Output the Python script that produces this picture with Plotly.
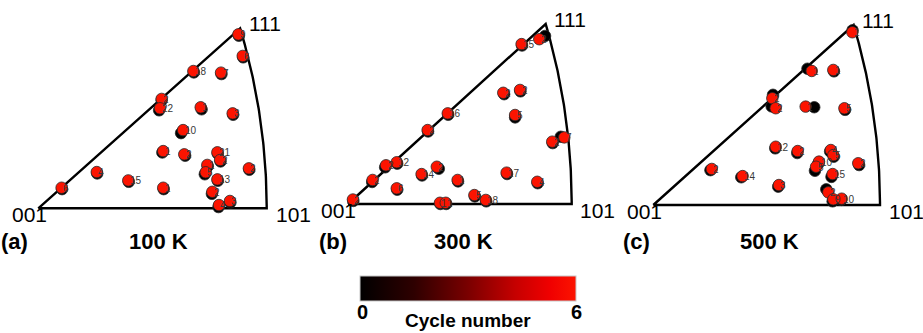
import numpy as np
import plotly.graph_objects as go

FIG_W, FIG_H = 923, 333
FONT = "Liberation Sans, Arial, sans-serif"

# Cycle numbers drawn for every grain (start and end of cycling)
CYCLES = [0, 6]

# Grain positions in the standard triangle, normalised so that 001 = (0, 0)
# and 101 = (1, 0) (stereographic coordinates divided by tan 22.5 deg).

# (a) 100 K
A_GRAIN = ["9", "6", "18", "7", "2", "22", "1", "3", "10", "1", "2", "21",
           "2", "1", "5", "2", "4", "15", "13", "6", "1", "2", "3", "4"]
A_X6 = [0.876, 0.895, 0.679, 0.800, 0.540, 0.533, 0.711, 0.851, 0.634, 0.547, 0.639, 0.784,
        0.796, 0.740, 0.733, 0.922, 0.256, 0.394, 0.784, 0.102, 0.547, 0.762, 0.839, 0.791]
A_Y6 = [0.854, 0.748, 0.674, 0.666, 0.537, 0.491, 0.496, 0.466, 0.384, 0.281, 0.265, 0.275,
        0.237, 0.213, 0.177, 0.196, 0.178, 0.137, 0.142, 0.101, 0.101, 0.081, 0.036, 0.016]
A_X0 = [0.878, 0.897, 0.681, 0.802, 0.540, 0.529, 0.715, 0.853, 0.625, 0.543, 0.643, 0.786,
        0.798, 0.742, 0.729, 0.924, 0.258, 0.396, 0.786, 0.104, 0.549, 0.760, 0.841, 0.789]
A_Y0 = [0.847, 0.741, 0.667, 0.659, 0.530, 0.481, 0.486, 0.459, 0.369, 0.274, 0.258, 0.268,
        0.230, 0.206, 0.167, 0.189, 0.171, 0.130, 0.135, 0.094, 0.094, 0.071, 0.029, 0.006]

# (b) 300 K
B_GRAIN = ["2", "15", "2", "2", "5", "16", "2", "7", "2", "2", "12", "2",
           "14", "17", "2", "1", "4", "6", "5", "2", "1", "1", "18"]
B_X6 = [0.855, 0.776, 0.694, 0.769, 0.747, 0.446, 0.356, 0.967, 0.913, 0.170, 0.218, 0.397,
        0.329, 0.709, 0.110, 0.490, 0.846, 0.218, 0.565, 0.022, 0.411, 0.437, 0.616]
B_Y6 = [0.809, 0.785, 0.546, 0.560, 0.437, 0.445, 0.363, 0.327, 0.306, 0.190, 0.205, 0.183,
        0.147, 0.154, 0.118, 0.118, 0.109, 0.077, 0.044, 0.022, 0.006, 0.006, 0.020]
B_X0 = [0.881, 0.778, 0.698, 0.771, 0.747, 0.448, 0.358, 0.951, 0.915, 0.166, 0.220, 0.406,
        0.331, 0.711, 0.108, 0.492, 0.848, 0.220, 0.567, 0.024, 0.413, 0.439, 0.618]
B_Y0 = [0.825, 0.778, 0.539, 0.553, 0.425, 0.438, 0.356, 0.330, 0.299, 0.180, 0.198, 0.173,
        0.140, 0.147, 0.108, 0.111, 0.102, 0.070, 0.037, 0.015, 0.000, 0.000, 0.013]

# (c) 500 K
C_GRAIN = ["1", "1", "1", "2", "2", "1", "5", "12", "2", "4", "5",
           "10", "5", "2", "2", "14", "15", "3", "2", "9", "10"]
C_X6 = [0.878, 0.699, 0.794, 0.525, 0.540, 0.672, 0.843, 0.540, 0.637, 0.783, 0.794,
        0.731, 0.718, 0.904, 0.258, 0.394, 0.791, 0.554, 0.772, 0.794, 0.831]
C_Y6 = [0.848, 0.658, 0.663, 0.524, 0.475, 0.483, 0.475, 0.286, 0.265, 0.270, 0.245,
        0.213, 0.188, 0.205, 0.177, 0.142, 0.152, 0.098, 0.062, 0.028, 0.031]
C_X0 = [0.879, 0.680, 0.797, 0.528, 0.522, 0.710, 0.846, 0.538, 0.635, 0.780, 0.796,
        0.728, 0.713, 0.908, 0.252, 0.388, 0.786, 0.551, 0.763, 0.791, 0.829]
C_Y0 = [0.858, 0.669, 0.656, 0.541, 0.484, 0.480, 0.467, 0.278, 0.255, 0.263, 0.237,
        0.203, 0.168, 0.196, 0.171, 0.136, 0.138, 0.090, 0.077, 0.018, 0.025]

PANEL_TAGS = ["(a)", "(b)", "(c)"]
PANEL_TEMPS = ["100 K", "300 K", "500 K"]
VERTEX_LABELS = ["001", "101", "111"]

CBAR_TICKS = [0, 6]
CBAR_TITLE = "Cycle number"

panels = [
    dict(grain=A_GRAIN, x6=A_X6, y6=A_Y6, x0=A_X0, y0=A_Y0),
    dict(grain=B_GRAIN, x6=B_X6, y6=B_Y6, x0=B_X0, y0=B_Y0),
    dict(grain=C_GRAIN, x6=C_X6, y6=C_Y6, x0=C_X0, y0=C_Y0),
]

# Pixel placement of each triangle: 001 corner (px, py) and pixels per unit
frames = [
    dict(px=38.3, py=208.3, sx=228.4, sy=203.7, tag_x=15, temp_x=158),
    dict(px=348.0, py=204.0, sx=223.7, sy=203.7, tag_x=333, temp_x=464),
    dict(px=653.3, py=205.0, sx=226.7, sy=203.7, tag_x=636, temp_x=769),
]
X_RANGE = [-0.15, 1.15]
Y_RANGE = [-0.12, 0.98]

# Boundary of the standard stereographic triangle
k = np.tan(np.pi / 8)
t = np.linspace(0, 1, 80)
nrm = np.sqrt(2 + t ** 2)
arc_x = (1 / nrm) / (1 + 1 / nrm) / k
arc_y = (t / nrm) / (1 + 1 / nrm) / k
edge_x = np.concatenate([[0.0], arc_x, [0.0]])
edge_y = np.concatenate([[0.0], arc_y, [0.0]])

colorscale = [
    [0.0, "#000000"],
    [0.25, "#2e0000"],
    [0.5, "#7a0000"],
    [0.72, "#c60000"],
    [0.88, "#f00000"],
    [1.0, "#fc1400"],
]

fig = go.Figure()
annotations = []

for i, (p, f) in enumerate(zip(panels, frames)):
    s = "" if i == 0 else str(i + 1)
    xa, ya = "x" + s, "y" + s
    n = len(p["grain"])

    fig.add_trace(go.Scatter(
        x=edge_x, y=edge_y, mode="lines",
        line=dict(color="black", width=2.4),
        xaxis=xa, yaxis=ya, hoverinfo="skip", showlegend=False,
    ))

    xs = list(p["x0"]) + list(p["x6"])
    ys = list(p["y0"]) + list(p["y6"])
    cyc = [CYCLES[0]] * n + [CYCLES[1]] * n
    fig.add_trace(go.Scatter(
        x=xs, y=ys, mode="markers",
        marker=dict(size=11.5, color=cyc, coloraxis="coloraxis",
                    line=dict(color="#2a2a2a", width=0.8)),
        xaxis=xa, yaxis=ya, showlegend=False,
    ))

    # grain identifiers, starting near each end-of-cycling dot centre
    for gx, gy, g in zip(p["x6"], p["y6"], p["grain"]):
        annotations.append(dict(
            x=gx, y=gy, xref=xa, yref=ya, text=g, showarrow=False,
            xanchor="left", yanchor="middle", xshift=-0.5, yshift=-0.5,
            font=dict(family=FONT, size=10, color="#383838"),
        ))

    dx0 = (f["px"] + X_RANGE[0] * f["sx"]) / FIG_W
    dx1 = (f["px"] + X_RANGE[1] * f["sx"]) / FIG_W
    dy0 = (FIG_H - (f["py"] - Y_RANGE[0] * f["sy"])) / FIG_H
    dy1 = (FIG_H - (f["py"] - Y_RANGE[1] * f["sy"])) / FIG_H
    fig.update_layout(**{
        "xaxis" + s: dict(domain=[dx0, dx1], range=X_RANGE, visible=False, fixedrange=True),
        "yaxis" + s: dict(domain=[dy0, dy1], range=Y_RANGE, visible=False, fixedrange=True),
    })

    vfont = dict(family=FONT, size=21, color="black")
    annotations += [
        dict(x=0.045, y=-0.03, xref=xa, yref=ya, text=VERTEX_LABELS[0],
             xanchor="right", yanchor="middle", showarrow=False, font=vfont),
        dict(x=1.03, y=-0.03, xref=xa, yref=ya, text=VERTEX_LABELS[1],
             xanchor="left", yanchor="middle", showarrow=False, font=vfont),
        dict(x=0.912, y=0.905, xref=xa, yref=ya, text=VERTEX_LABELS[2],
             xanchor="left", yanchor="middle", showarrow=False, font=vfont),
        dict(x=f["tag_x"] / FIG_W, y=1 - 241 / FIG_H, xref="paper", yref="paper",
             text="<b>" + PANEL_TAGS[i] + "</b>", showarrow=False,
             xanchor="center", yanchor="middle",
             font=dict(family=FONT, size=22, color="black")),
        dict(x=f["temp_x"] / FIG_W, y=1 - 241 / FIG_H, xref="paper", yref="paper",
             text="<b>" + PANEL_TEMPS[i] + "</b>", showarrow=False,
             xanchor="center", yanchor="middle",
             font=dict(family=FONT, size=22, color="black")),
    ]

# colour-bar end labels and title
for v, px in zip(CBAR_TICKS, [362, 576]):
    annotations.append(dict(
        x=px / FIG_W, y=1 - 312 / FIG_H, xref="paper", yref="paper",
        text="<b>%d</b>" % v, showarrow=False,
        xanchor="center", yanchor="middle",
        font=dict(family=FONT, size=20, color="black"),
    ))
annotations.append(dict(
    x=468 / FIG_W, y=1 - 320 / FIG_H, xref="paper", yref="paper",
    text="<b>" + CBAR_TITLE + "</b>", showarrow=False,
    xanchor="center", yanchor="middle",
    font=dict(family=FONT, size=19, color="black"),
))

fig.update_layout(
    width=FIG_W, height=FIG_H,
    margin=dict(l=0, r=0, t=0, b=0),
    paper_bgcolor="white", plot_bgcolor="white",
    showlegend=False,
    annotations=annotations,
    coloraxis=dict(
        colorscale=colorscale, cmin=CBAR_TICKS[0], cmax=CBAR_TICKS[1],
        colorbar=dict(
            orientation="h",
            x=468 / FIG_W, xanchor="center",
            y=1 - 276 / FIG_H, yanchor="top",
            lenmode="pixels", len=216,
            thicknessmode="pixels", thickness=25,
            xpad=0, ypad=0,
            outlinewidth=1, outlinecolor="#c8c8c8",
            tickvals=CBAR_TICKS,
            showticklabels=False,
            ticks="", ticklen=0,
        ),
    ),
)

fig.write_html("out.html")
